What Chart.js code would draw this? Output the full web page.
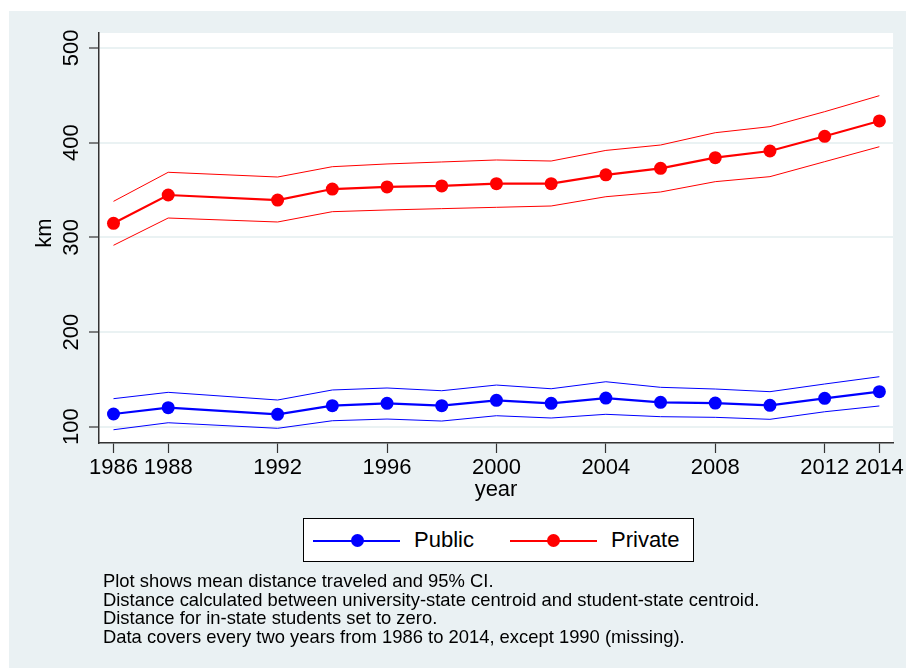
<!DOCTYPE html>
<html>
<head>
<meta charset="utf-8">
<script src="https://cdn.jsdelivr.net/npm/chart.js@4"></script>
<style>
  html, body { margin: 0; padding: 0; background: #ffffff; }
  #page { position: relative; width: 906px; height: 668px; overflow: hidden; }
  #region { position: absolute; left: 9px; top: 11px; width: 897px; height: 657px; background: #eaf1f3; }
  #chart { position: absolute; left: 0; top: 0; }
  #legend {
    position: absolute; left: 303px; top: 518px; width: 391px; height: 44px;
    box-sizing: border-box; border: 1px solid #000; background: #fff;
    font-family: "Liberation Sans", Arial, sans-serif; font-size: 22px; color: #000;
  }
  .lg-line { position: absolute; top: 21px; height: 2px; width: 87px; }
  .lg-dot { position: absolute; top: 15px; width: 13px; height: 13px; border-radius: 50%; }
  .lg-text { position: absolute; top: 8px; line-height: 26px; }
  #notes {
    position: absolute; left: 103px; top: 572px;
    font-family: "Liberation Sans", Arial, sans-serif;
    font-size: 18.4px; line-height: 18.5px; color: #000;
  }
</style>
</head>
<body>
<div id="page">
  <div id="region"></div>
  <canvas id="chart" width="906" height="668"></canvas>
  <div id="legend">
    <span class="lg-line" style="left:9px;background:#0000ff"></span>
    <span class="lg-dot" style="left:47px;background:#0000ff"></span>
    <span class="lg-text" style="left:110px">Public</span>
    <span class="lg-line" style="left:206px;background:#ff0000"></span>
    <span class="lg-dot" style="left:243px;background:#ff0000"></span>
    <span class="lg-text" style="left:307px">Private</span>
  </div>
  <div id="notes">
    Plot shows mean distance traveled and 95% CI.<br>
    Distance calculated between university-state centroid and student-state centroid.<br>
    Distance for in-state students set to zero.<br>
    Data covers every two years from 1986 to 2014, except 1990 (missing).
  </div>
</div>
<script>
// Datos (km medios y IC 95%)
const years = [1986, 1988, 1992, 1994, 1996, 1998, 2000, 2002, 2004, 2006, 2008, 2010, 2012, 2014];

const publicMean  = [113.4, 120.1, 113.1, 122.2, 124.7, 122.2, 127.9, 124.7, 130.2, 125.8, 125.0, 122.6, 130.0, 137.0];
const publicUpper = [129.6, 136.3, 128.2, 138.8, 140.9, 138.0, 144.0, 140.1, 147.5, 141.6, 139.8, 137.0, 145.1, 152.8];
const publicLower = [96.8, 104.2, 98.3, 106.3, 108.1, 106.0, 111.6, 109.2, 113.1, 110.6, 109.9, 107.8, 115.8, 121.9];

const privateMean  = [314.8, 344.7, 339.4, 351.0, 353.2, 354.3, 356.7, 356.7, 366.0, 372.9, 384.1, 391.2, 406.7, 422.9];
const privateUpper = [338.0, 368.7, 363.7, 374.6, 377.5, 379.6, 381.7, 380.6, 391.8, 397.5, 410.5, 416.9, 432.7, 449.6];
const privateLower = [291.6, 320.4, 316.2, 327.1, 328.9, 330.3, 331.7, 333.1, 342.9, 347.9, 358.8, 364.1, 379.9, 395.7];

const xTicks = [1986, 1988, 1992, 1996, 2000, 2004, 2008, 2012, 2014];
const yTicks = [100, 200, 300, 400, 500];

const FONT = '"Liberation Sans", Arial, sans-serif';

function puntos(valores) {
    return years.map((y, i) => ({ x: y, y: valores[i] }));
}

function serie(valores, color, principal) {
    return {
        data: puntos(valores),
        borderColor: color,
        backgroundColor: color,
        borderWidth: principal ? 2.2 : 1,
        pointRadius: principal ? 6.5 : 0,
        pointHoverRadius: principal ? 6.5 : 0,
        pointBorderWidth: 0,
        tension: 0
    };
}

// Fondo blanco del área de trazado + etiquetas verticales del eje Y y título "km"
const plotBackground = {
    id: 'plotBackground',
    beforeDraw(chart) {
        const { ctx, chartArea } = chart;
        ctx.save();
        ctx.fillStyle = '#ffffff';
        ctx.fillRect(chartArea.left, chartArea.top, chartArea.right - chartArea.left, chartArea.bottom - chartArea.top);
        ctx.restore();
    },
    afterDraw(chart) {
        const { ctx } = chart;
        const yScale = chart.scales.y;
        ctx.save();
        ctx.fillStyle = '#000';
        ctx.font = '22px ' + FONT;
        ctx.textAlign = 'center';
        ctx.textBaseline = 'middle';
        yScale.ticks.forEach(t => {
            const py = yScale.getPixelForValue(t.value);
            ctx.save();
            ctx.translate(72, py);
            ctx.rotate(-Math.PI / 2);
            ctx.fillText(String(t.value), 0, 0);
            ctx.restore();
        });
        ctx.translate(45, 233);
        ctx.rotate(-Math.PI / 2);
        ctx.fillText('km', 0, 0);
        ctx.restore();
    }
};

new Chart(document.getElementById('chart'), {
    type: 'line',
    data: {
        datasets: [
            serie(privateUpper, '#ff0000', false),
            serie(privateLower, '#ff0000', false),
            serie(privateMean, '#ff0000', true),
            serie(publicUpper, '#0000ff', false),
            serie(publicLower, '#0000ff', false),
            serie(publicMean, '#0000ff', true)
        ]
    },
    options: {
        responsive: false,
        animation: false,
        events: [],
        layout: { padding: { left: 0, top: 33, right: 9, bottom: 165 } },
        plugins: {
            legend: { display: false },
            tooltip: { enabled: false }
        },
        scales: {
            x: {
                type: 'linear',
                min: 1985.47,
                max: 2014.5,
                afterBuildTicks: s => { s.ticks = xTicks.map(v => ({ value: v })); },
                afterFit: s => { s.height = 60; },
                border: { color: '#333', width: 1.5 },
                grid: { drawOnChartArea: false, drawTicks: true, tickLength: 10, tickColor: '#333', tickWidth: 1.2 },
                ticks: {
                    autoSkip: false,
                    maxRotation: 0,
                    padding: 2,
                    color: '#000',
                    font: { family: FONT, size: 22 },
                    callback: v => String(v)
                },
                title: {
                    display: true,
                    text: 'year',
                    color: '#000',
                    font: { family: FONT, size: 22 },
                    padding: { top: 0, bottom: 0 }
                }
            },
            y: {
                min: 82.8,
                max: 515.8,
                afterBuildTicks: s => { s.ticks = yTicks.map(v => ({ value: v })); },
                afterFit: s => { s.width = 99; },
                border: { color: '#333', width: 1.5 },
                grid: { color: '#eaf2f3', lineWidth: 2, tickLength: 10, tickColor: '#333', tickWidth: 1.2 },
                ticks: { display: false },
                title: { display: false }
            }
        }
    },
    plugins: [plotBackground]
});
</script>
</body>
</html>
